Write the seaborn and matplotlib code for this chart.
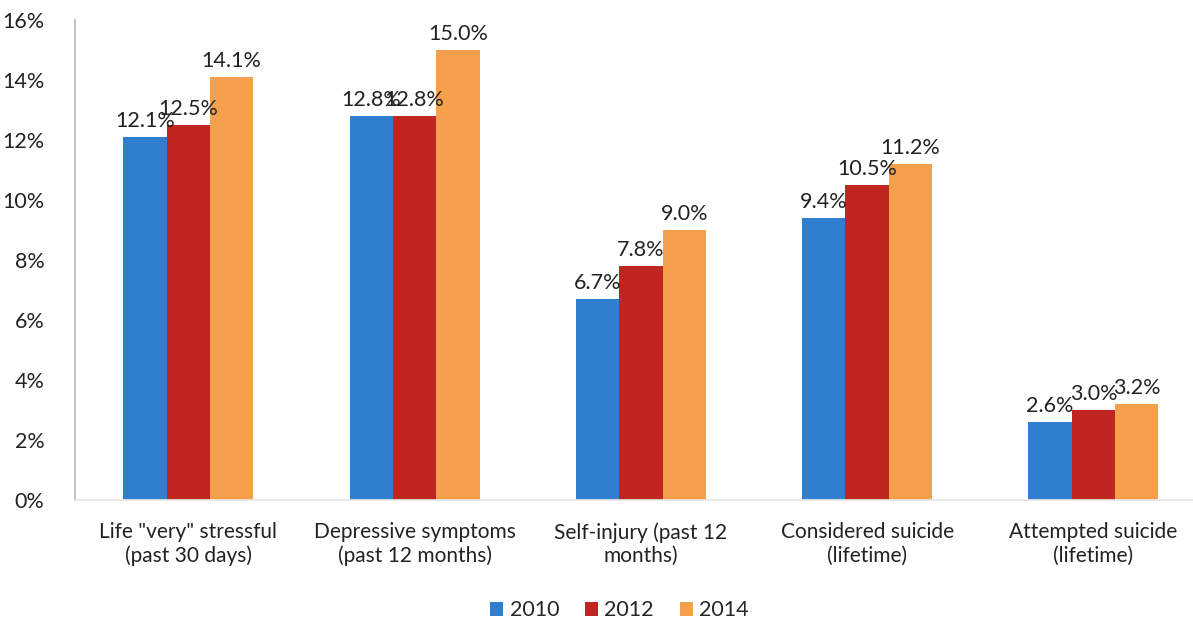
import pandas as pd
import matplotlib.pyplot as plt
import seaborn as sns

categories = ['Life "very" stressful\n(past 30 days)',
              'Depressive symptoms\n(past 12 months)',
              'Self-injury (past 12\nmonths)',
              'Considered suicide\n(lifetime)',
              'Attempted suicide\n(lifetime)']
years = ['2010', '2012', '2014']
values_2010 = [12.1, 12.8, 6.7, 9.4, 2.6]
values_2012 = [12.5, 12.8, 7.8, 10.5, 3.0]
values_2014 = [14.1, 15.0, 9.0, 11.2, 3.2]
colors = ['#2f7fd1', '#c0261f', '#f5a04c']

df = pd.DataFrame({
    'category': categories * 3,
    'year': [y for y in years for _ in categories],
    'value': values_2010 + values_2012 + values_2014,
})

sns.set_theme(style='white')
plt.rcParams['font.family'] = ['Lato', 'DejaVu Sans']

fig = plt.figure(figsize=(11.93, 6.25), dpi=100)
ax = fig.add_axes([0.063, 0.2, 0.937, 0.768])

sns.barplot(data=df, x='category', y='value', hue='year', palette=colors,
            width=0.575, saturation=1, linewidth=0, ax=ax, legend=True)

for cont in ax.containers:
    ax.bar_label(cont, fmt='%.1f%%', padding=4, fontsize=15.5, color='#222222')

ax.set_xlim(-0.5, 4.44)
ax.set_ylim(0, 16)
ax.set_yticks(range(0, 17, 2))
ax.set_yticklabels([f'{t}%' for t in range(0, 17, 2)], fontsize=15.5, color='#222222')
ax.tick_params(axis='x', labelsize=15, colors='#222222', length=0, pad=16)
ax.tick_params(axis='y', length=0, pad=22)
ax.set_xlabel('')
ax.set_ylabel('')

for s in ['top', 'right']:
    ax.spines[s].set_visible(False)
ax.spines['left'].set_color('#bbbbbb')
ax.spines['bottom'].set_color('#e6e6e6')

ax.legend(loc='center', bbox_to_anchor=(0.487, -0.23), ncol=3, frameon=False,
          fontsize=15.5, handlelength=0.6, handleheight=0.6, handletextpad=0.3,
          columnspacing=1.2)

fig.savefig('out.png', dpi=100)
